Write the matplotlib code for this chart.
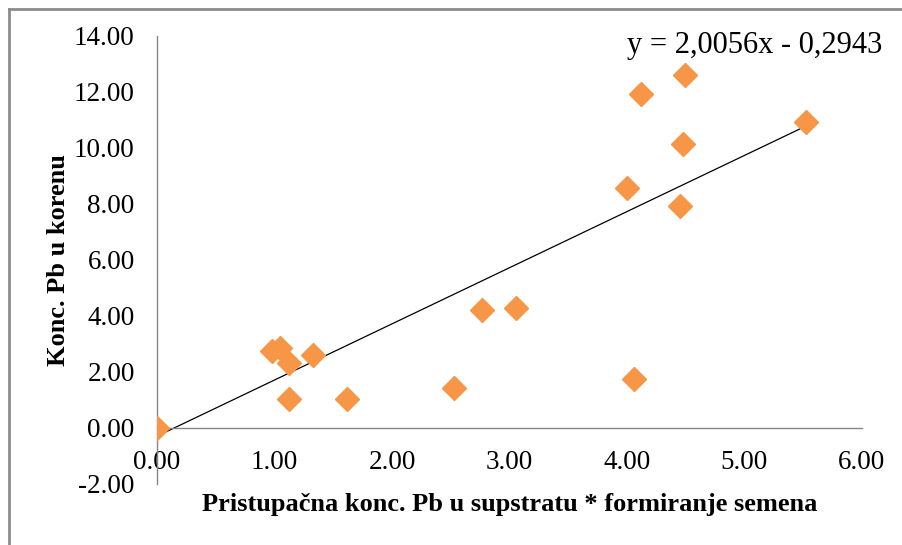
import numpy as np
import matplotlib.pyplot as plt
from matplotlib.lines import Line2D

# values
x_vals = [0.0, 0.98, 1.05, 1.12, 1.12, 1.33, 1.62, 2.53, 2.77, 3.06,
          4.06, 4.00, 4.45, 4.48, 4.12, 4.49, 5.52]
y_vals = [0.0, 2.75, 2.85, 2.32, 1.04, 2.60, 1.04, 1.43, 4.20, 4.28,
          1.75, 8.57, 7.93, 10.14, 11.93, 12.60, 10.93]
slope, intercept = 2.0056, -0.2943
x_ticks = [0, 1, 2, 3, 4, 5, 6]
y_ticks = [-2, 0, 2, 4, 6, 8, 10, 12, 14]

plt.rcParams['font.family'] = ['Liberation Serif', 'DejaVu Serif']

fig = plt.figure(figsize=(9.02, 5.45), dpi=100)
ax = fig.add_axes([0.174, 0.112, 0.7816, 0.822])

ax.plot(x_vals, y_vals, linestyle='none', marker='D', markersize=12,
        color='#F79646', zorder=3)

xf = np.array([0, max(x_vals)])
ax.plot(xf, slope * xf + intercept, color='black', linewidth=0.9, zorder=2)

ax.set_xlim(0, 6)
ax.set_ylim(-2, 14)
ax.set_xticks(x_ticks)
ax.set_yticks(y_ticks)
ax.set_xticklabels([f'{v:.2f}' for v in x_ticks])
ax.set_yticklabels([f'{v:.2f}' for v in y_ticks])

for s in ['top', 'right']:
    ax.spines[s].set_visible(False)
ax.spines['bottom'].set_position(('data', 0))
ax.spines['left'].set_position(('data', 0))
for s in ['bottom', 'left']:
    ax.spines[s].set_color('#868686')
    ax.spines[s].set_linewidth(1.0)
ax.tick_params(axis='x', length=0, pad=16, labelsize=19.5)
ax.tick_params(axis='y', length=0, pad=16, labelsize=19.5)

ax.set_ylabel('Konc. Pb u korenu', fontsize=19, fontweight='bold', labelpad=3)
fig.text(0.565, 1 - 505 / 545, 'Pristupačna konc. Pb u supstratu * formiranje semena',
         ha='center', va='center', fontsize=19, fontweight='bold')

fig.text(882 / 902, 1 - 45 / 545, 'y = 2,0056x - 0,2943', ha='right', va='center',
         fontsize=22)

# outer chart frame (only left and top visible)
fig.add_artist(Line2D([9 / 902, 9 / 902], [0, 1 - 9 / 545], transform=fig.transFigure,
                      color='#8c8c8c', linewidth=2))
fig.add_artist(Line2D([9 / 902, 1], [1 - 9 / 545, 1 - 9 / 545], transform=fig.transFigure,
                      color='#8c8c8c', linewidth=2))

fig.savefig('out.png', dpi=100)
